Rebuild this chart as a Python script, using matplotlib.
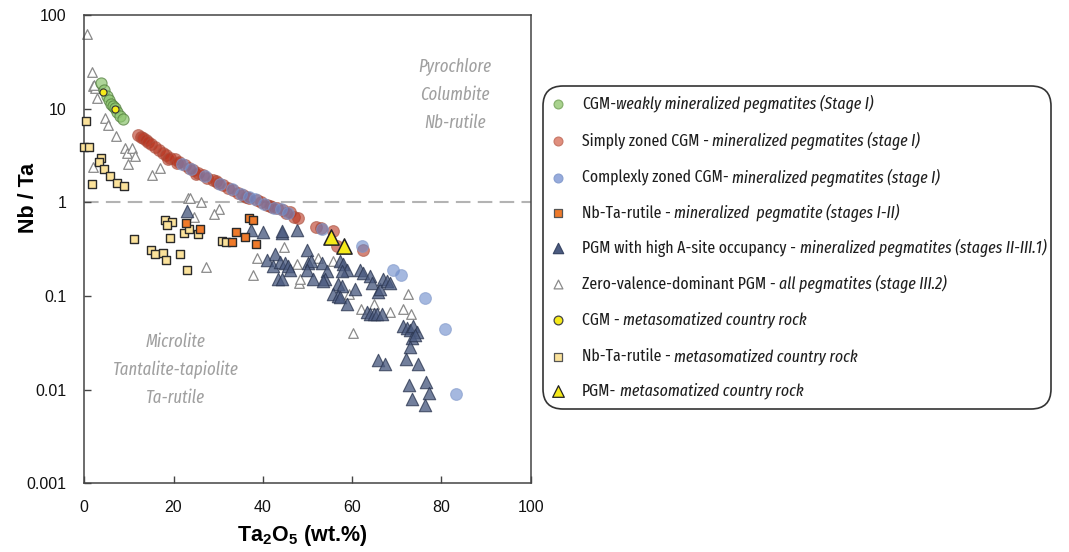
import matplotlib
matplotlib.use("Agg")
import matplotlib.pyplot as plt
from matplotlib.patches import FancyBboxPatch
from matplotlib.ticker import FixedLocator, FixedFormatter, NullLocator

plt.rcParams['font.family'] = ['Liberation Sans', 'DejaVu Sans']
plt.rcParams['mathtext.fontset'] = 'custom'
plt.rcParams['mathtext.rm'] = 'Liberation Sans'
plt.rcParams['mathtext.bf'] = 'Liberation Sans:bold'
NARROW = ['Fira Sans Extra Condensed', 'Roboto Condensed', 'Roboto', 'DejaVu Sans']

# ---- data (Ta2O5 wt.%, Nb/Ta) ----
cgm_weak_x = [3.8, 4.5, 5.1, 5.6, 6.0, 6.4, 6.9, 7.4, 7.9, 8.6]
cgm_weak_y = [18.6, 16.0, 13.6, 12.3, 11.3, 10.7, 10.1, 9.1, 8.4, 7.8]

simple_x = [12.1, 12.8, 13.2, 13.8, 14.3, 15.0, 15.8, 16.8, 17.6, 18.4, 18.8, 19.3,
            20.3, 20.8, 21.2, 22.5, 23.4, 24.4, 25.0, 25.5, 26.6, 27.6, 28.9, 29.5,
            30.0, 31.1, 32.2, 33.4, 34.5, 35.6, 36.3, 37.0, 38.6, 39.7, 40.9, 41.5,
            42.0, 43.1, 44.5, 45.2, 46.1, 47.0, 47.9, 51.9, 53.0, 55.8, 56.6, 62.4]
simple_y = [5.2, 5.0, 4.9, 4.6, 4.4, 4.2, 3.94, 3.6, 3.35, 3.17, 2.9, 3.0,
            2.92, 2.6, 2.7, 2.48, 2.33, 2.19, 2.0, 2.05, 1.94, 1.83, 1.72, 1.68,
            1.62, 1.52, 1.43, 1.35, 1.27, 1.19, 1.15, 1.12, 1.06, 1.0, 0.94, 0.92,
            0.90, 0.86, 0.82, 0.76, 0.78, 0.70, 0.68, 0.55, 0.53, 0.49, 0.34, 0.31]

complex_x = [21.8, 24.0, 27.0, 30.5, 33.0, 35.0, 36.8, 38.2, 40.3, 42.5, 44.0, 45.6,
             53.2, 62.2, 69.2, 71.0, 76.3, 80.8, 83.2]
complex_y = [2.55, 2.25, 1.9, 1.55, 1.38, 1.22, 1.13, 1.08, 0.97, 0.87, 0.85, 0.76,
             0.52, 0.34, 0.19, 0.168, 0.095, 0.044, 0.009]

rutile_min_x = [22.7, 26.0, 34.1, 33.2, 36.0, 38.5, 37.0, 37.8]
rutile_min_y = [0.60, 0.52, 0.48, 0.38, 0.43, 0.36, 0.68, 0.64]

pgm_high_x = [23.1, 37.3, 40.1, 44.3, 47.6, 44.2, 42.7, 40.9, 42.3, 43.9, 45.0, 45.7,
              43.5, 46.0, 44.2, 49.8, 50.2, 50.9, 49.9, 53.2, 54.3, 51.3, 53.9, 53.5,
              57.3, 58.0, 58.8, 57.7, 56.9, 57.7, 55.8, 56.9, 57.3, 60.7, 58.8,
              61.8, 62.5, 64.0, 64.4, 65.9, 66.3, 67.0, 67.8, 68.5,
              63.3, 64.0, 64.8, 65.5, 66.6,
              71.5, 72.2, 73.0, 73.7, 74.5, 73.4, 74.1, 73.0,
              65.7, 67.4, 72.0, 74.7, 72.8, 76.5, 77.2, 73.5, 76.4]
pgm_high_y = [0.80, 0.51, 0.48, 0.47, 0.51, 0.49, 0.28, 0.24, 0.21, 0.23, 0.227, 0.21,
              0.153, 0.19, 0.15, 0.31, 0.227, 0.236, 0.19, 0.227, 0.185, 0.15, 0.15, 0.145,
              0.236, 0.218, 0.19, 0.185, 0.134, 0.128, 0.105, 0.10, 0.097, 0.118, 0.082,
              0.19, 0.174, 0.164, 0.139, 0.109, 0.118, 0.15, 0.145, 0.139,
              0.067, 0.065, 0.065, 0.065, 0.065,
              0.048, 0.045, 0.043, 0.048, 0.041, 0.036, 0.038, 0.0286,
              0.0207, 0.019, 0.0215, 0.019, 0.0112, 0.0122, 0.0092, 0.008, 0.0069]

zero_x = [0.6, 1.7, 1.9, 2.3, 2.1, 2.9, 4.7, 5.3, 7.1, 9.1, 9.6, 10.7, 11.3, 9.9,
          1.9, 15.1, 16.9, 23.2, 23.7, 26.1, 30.2, 29.1, 24.5, 27.2, 37.7, 38.6,
          44.7, 47.6, 48.1, 48.3, 52.4, 55.8, 59.2, 62.0, 64.8, 68.5, 71.5, 73.2,
          72.6, 60.3]
zero_y = [62, 24.6, 17.3, 16.7, 17.8, 12.9, 7.9, 6.7, 5.1, 3.8, 3.4, 3.8, 3.16, 2.54,
          2.38, 1.94, 2.34, 1.1, 1.1, 1.0, 0.84, 0.75, 0.69, 0.205, 0.166, 0.256,
          0.334, 0.221, 0.139, 0.15, 0.256, 0.236, 0.105, 0.073, 0.082, 0.068, 0.073, 0.065,
          0.105, 0.040]

cgm_meta_x = [4.2, 6.8]
cgm_meta_y = [15.0, 9.9]

rutile_meta_x = [0.4, 0.0, 1.0, 3.8, 3.4, 4.5, 5.8, 7.3, 9.0, 1.75, 11.2, 18.0, 19.6,
                 18.6, 19.2, 14.9, 15.8, 17.7, 18.3, 21.4, 22.9, 22.4, 23.5, 25.5, 30.8, 31.7]
rutile_meta_y = [7.4, 3.87, 3.87, 3.0, 2.69, 2.29, 1.9, 1.61, 1.49, 1.56, 0.41, 0.65, 0.62,
                 0.57, 0.42, 0.31, 0.28, 0.29, 0.24, 0.28, 0.19, 0.47, 0.52, 0.46, 0.39, 0.38]

pgm_meta_x = [55.2, 58.2]
pgm_meta_y = [0.43, 0.34]

legend_plain = ["CGM-", "Simply zoned CGM -", "Complexly zoned CGM-", "Nb-Ta-rutile -",
                "PGM with high A-site occupancy -", "Zero-valence-dominant PGM -",
                "CGM -", "Nb-Ta-rutile -", "PGM-"]
legend_ital = ["weakly mineralized pegmatites (Stage I)", "mineralized pegmatites (stage I)",
               "mineralized pegmatites (stage I)", "mineralized  pegmatite (stages I-II)",
               "mineralized pegmatites (stages II-III.1)", "all pegmatites (stage III.2)",
               "metasomatized country rock", "metasomatized country rock",
               "metasomatized country rock"]

# ---- figure ----
fig = plt.figure(figsize=(10.69, 5.52), dpi=100)
ax = fig.add_axes([84.3 / 1069, 1 - 483.3 / 552, 446.3 / 1069, 468.3 / 552])

ax.scatter(zero_x, zero_y, marker='^', s=48, facecolor='white', edgecolor='#8a8a8a',
           linewidths=0.9, zorder=2, clip_on=False)
ax.scatter(pgm_high_x, pgm_high_y, marker='^', s=80, facecolor='#4b5b80', edgecolor='#2b3650',
           alpha=0.78, linewidths=0.8, zorder=3)
ax.scatter(simple_x, simple_y, marker='o', s=72, facecolor='#b8341f', edgecolor='#a8503f',
           alpha=0.6, linewidths=0.8, zorder=4)
ax.scatter(complex_x, complex_y, marker='o', s=72, facecolor='#6a8acb', edgecolor='#7f97c9',
           alpha=0.6, linewidths=0.8, zorder=4)
ax.scatter(cgm_weak_x, cgm_weak_y, marker='o', s=65, facecolor='#8cc46e', edgecolor='#4f7a3a',
           alpha=0.7, linewidths=0.8, zorder=5)
ax.scatter(rutile_meta_x, rutile_meta_y, marker='s', s=38, facecolor='#fbe29a', edgecolor='#2a2a2a',
           linewidths=1.0, zorder=6, clip_on=False)
ax.scatter(rutile_min_x, rutile_min_y, marker='s', s=38, facecolor='#ef7a2a', edgecolor='#2a2a2a',
           linewidths=1.0, zorder=6)
ax.scatter(cgm_meta_x, cgm_meta_y, marker='o', s=26, facecolor='#f6ea1a', edgecolor='#333333',
           linewidths=0.8, zorder=7)
ax.scatter(pgm_meta_x, pgm_meta_y, marker='^', s=120, facecolor='#f6ea1a', edgecolor='#222222',
           linewidths=1.1, zorder=7)

ax.axhline(1, color='#b3b3b3', lw=1.5, linestyle=(0, (7, 3.5)), zorder=1)

ax.set_yscale('log')
ax.set_xlim(0, 100)
ax.set_ylim(0.001, 100)
ax.xaxis.set_major_locator(FixedLocator([0, 20, 40, 60, 80, 100]))
ax.yaxis.set_major_locator(FixedLocator([0.001, 0.01, 0.1, 1, 10, 100]))
ax.yaxis.set_major_formatter(FixedFormatter(['0.001', '0.01', '0.1', '1', '10', '100']))
ax.yaxis.set_minor_locator(NullLocator())
ax.tick_params(direction='in', length=5, width=1, color='#444444', labelsize=11.5,
               labelcolor='#111111')
ax.tick_params(axis='x', pad=12)
ax.tick_params(axis='y', pad=13)
for sp in ax.spines.values():
    sp.set_color('#444444')
    sp.set_linewidth(1.1)

ax.set_ylabel('Nb / Ta', fontsize=15.5, fontweight='bold')
ax.yaxis.set_label_coords(-0.102, (483.3 - 198) / 468.3)
ax.set_xlabel(r'Ta$_\mathbf{2}$O$_\mathbf{5}$ (wt.%)', fontsize=15.5, fontweight='bold')
ax.xaxis.set_label_coords((302 - 84.3) / 446.3, (483.3 - 523) / 468.3)

# ---- legend panel ----
lx0, ly0, lw_, lh_ = 542, 85, 510, 325
lax = fig.add_axes([lx0 / 1069, 1 - (ly0 + lh_) / 552, lw_ / 1069, lh_ / 552])
lax.set_xlim(0, lw_)
lax.set_ylim(lh_, 0)
lax.axis('off')
lax.add_patch(FancyBboxPatch((1, 1), lw_ - 2, lh_ - 2,
                             boxstyle='round,pad=0,rounding_size=20',
                             facecolor='white', edgecolor='#333333', lw=1.2,
                             clip_on=False))

rows = [19.3, 56, 92.7, 128.3, 163.3, 199.3, 235, 271.7, 306]
mk = [('o', '#a9d28e', '#86b06c', 40), ('o', '#e08f7e', '#c97a6a', 40),
      ('o', '#97abdc', '#8aa0d0', 40), ('s', '#ef7a2a', '#555555', 30),
      ('^', '#4b5b80', '#3a4766', 55), ('^', 'white', '#8a8a8a', 40),
      ('o', '#f6ea1a', '#444444', 40), ('s', '#fbe29a', '#555555', 28),
      ('^', '#f6ea1a', '#222222', 70)]
for ry, (m, fc, ec, s) in zip(rows, mk):
    lax.scatter([16], [ry], marker=m, s=s, facecolor=fc, edgecolor=ec, linewidths=0.9)

fig.canvas.draw()
r = fig.canvas.get_renderer()
inv = lax.transData.inverted()


def place_row(ry, plain, ital, size, gap):
    t = lax.text(40, ry, plain, fontsize=size, color='#1e1e1e', va='center', family=NARROW)
    bb = t.get_window_extent(r)
    xe = inv.transform((bb.x1, bb.y0))[0]
    t2 = lax.text(xe + gap, ry, ital, fontsize=size, color='#1e1e1e', va='center',
                  family=NARROW, style='italic')
    return t, t2


# fit the font size so the longest row spans the same width as in the reference
base = 13.0
t, t2 = place_row(rows[4], legend_plain[4], legend_ital[4], base, 4)
width = t2.get_window_extent(r).x1 - t.get_window_extent(r).x0
t.remove()
t2.remove()
size = min(14.5, base * 466.0 / width)

for i, (ry, plain, ital) in enumerate(zip(rows, legend_plain, legend_ital)):
    place_row(ry, plain, ital, size, 0 if i == 0 else 3.5)

# region labels, sized from the reference width of "Tantalite-tapiolite"
probe = ax.text(0, 1, 'Tantalite-tapiolite', fontsize=13, style='italic', family=NARROW)
pw = probe.get_window_extent(r).width
probe.remove()
rsize = min(15, 13 * 126.0 / pw)
region_kw = dict(color='#a0a0a0', fontsize=rsize, style='italic', ha='center', va='center',
                 family=NARROW, linespacing=1.7)
ax.text(83, 14, 'Pyrochlore\nColumbite\nNb-rutile', **region_kw)
ax.text(20.5, 0.0162, 'Microlite\nTantalite-tapiolite\nTa-rutile', **region_kw)

fig.savefig('out.png', dpi=100)
